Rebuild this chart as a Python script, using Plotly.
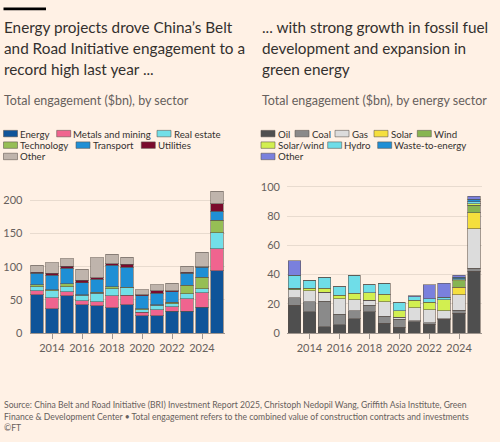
import plotly.graph_objects as go

# ---------------- data ----------------
years = [2013, 2014, 2015, 2016, 2017, 2018, 2019, 2020, 2021, 2022, 2023, 2024, 2025]

sector_names = ["Energy", "Metals and mining", "Real estate", "Technology", "Transport", "Utilities", "Other"]
energy = [58, 37, 56, 43, 41, 38, 43, 26.5, 26.5, 33, 33, 39, 94]
metals = [6, 16, 6, 6, 6, 18, 14, 5, 9, 7, 19, 22, 33]
real_estate = [6, 11, 8, 8, 13, 11, 11, 3.5, 6.5, 4.5, 7, 6, 24]
technology = [3, 1, 4, 1, 1.5, 2.5, 1, 1.5, 1, 2, 13, 17, 19]
transport = [17, 22, 24, 18, 20, 33, 30, 20, 17, 16, 18, 15, 14]
utilities = [1.5, 3, 3, 4, 2, 2, 5, 1.5, 4, 1, 2, 1, 11]
other_sector = [11, 16, 11, 16, 30, 14, 10, 7.5, 9, 12, 9, 21.5, 19]
sector_values = [energy, metals, real_estate, technology, transport, utilities, other_sector]

esector_names = ["Oil", "Coal", "Gas", "Solar", "Wind", "Solar/wind", "Hydro", "Waste-to-energy", "Other"]
oil = [19, 14.5, 4.2, 5.6, 9.8, 14.5, 6.7, 4, 7.8, 6, 9.4, 13.4, 42.3]
coal = [5, 7, 17.4, 7.4, 5.6, 4.4, 4.8, 5.4, 0.5, 0.9, 0.5, 2.2, 2]
gas = [5.5, 7.5, 6.2, 10.4, 7.3, 3.4, 10, 1.3, 9, 9, 5.5, 10.7, 27]
solar = [0, 0, 0, 0, 0, 0, 0, 0, 0, 0, 0, 5.1, 11.1]
wind = [1, 0, 0, 0, 0, 0, 0, 0, 0, 0, 0, 4.2, 5.1]
solar_wind = [0, 1.7, 2.9, 2.6, 4.5, 5.1, 5.1, 4.7, 5, 5.2, 7.4, 0.7, 0.9]
hydro = [9, 5.3, 7.3, 5.8, 12.2, 5.6, 7.5, 5.3, 2.5, 2.2, 1.7, 0.9, 1.4]
waste = [0, 0, 0, 0, 0, 0, 0, 0, 0, 0, 0, 0.9, 1.5]
other_energy = [9.8, 0, 0, 0, 0, 0, 0, 0, 0.8, 9.6, 9.4, 1.5, 2.2]
esector_values = [oil, coal, gas, solar, wind, solar_wind, hydro, waste, other_energy]

xtick_vals = [2014, 2016, 2018, 2020, 2022, 2024]
left_yticks = [0, 50, 100, 150, 200]
right_yticks = [0, 20, 40, 60, 80, 100]

# ---------------- styles ----------------
sector_colors = ["#0f5499", "#f0648f", "#72dfe8", "#96be55", "#1f8fd5", "#7a0a2c", "#bfb4ac"]
esector_colors = ["#4f4f4f", "#8a8a8a", "#dcdcdc", "#f5df3d", "#87b551", "#d2ef50", "#6fdde8", "#1f8fd5", "#7a80dd"]

BG = "#fff1e5"
TXT = "#33302e"
SUB = "#66605c"
GRID = "#e8dbcf"
BASE = "#9e958e"
OUTLINE = "rgba(90,80,75,0.55)"
FONT = "Lato"
W, H = 500, 442


def px(x):
    return x / W


def py(y):
    return 1 - y / H


fig = go.Figure()

for name, vals, col in zip(sector_names, sector_values, sector_colors):
    fig.add_trace(go.Bar(x=years, y=vals, name=name, marker_color=col,
                         marker_line=dict(color=OUTLINE, width=1),
                         width=0.82, xaxis="x", yaxis="y", showlegend=False))

for name, vals, col in zip(esector_names, esector_values, esector_colors):
    fig.add_trace(go.Bar(x=years, y=vals, name=name, marker_color=col,
                         marker_line=dict(color=OUTLINE, width=1),
                         width=0.82, xaxis="x2", yaxis="y2", showlegend=False))

ydom = [py(336.7), py(184)]
axis_common = dict(tickfont=dict(family=FONT, size=11, color=SUB))
fig.update_layout(
    width=W, height=H, margin=dict(l=0, r=0, t=0, b=0),
    paper_bgcolor=BG, plot_bgcolor=BG, barmode="stack",
    font=dict(family=FONT, color=TXT),
    xaxis=dict(domain=[px(29.5), px(224.5)], range=[2012.5, 2025.5], anchor="y",
               tickvals=xtick_vals, ticks="outside", ticklen=5, tickcolor=BASE,
               showline=True, linecolor=BASE, linewidth=1, showgrid=False, zeroline=False,
               **axis_common),
    yaxis=dict(domain=ydom, range=[0, 225], anchor="x", tickvals=left_yticks,
               showgrid=True, gridcolor=GRID, gridwidth=1, zeroline=False,
               ticklabelstandoff=6, **axis_common),
    xaxis2=dict(domain=[px(287), px(481.5)], range=[2012.5, 2025.5], anchor="y2",
                tickvals=xtick_vals, ticks="outside", ticklen=5, tickcolor=BASE,
                showline=True, linecolor=BASE, linewidth=1, showgrid=False, zeroline=False,
                **axis_common),
    yaxis2=dict(domain=ydom, range=[0, 102], anchor="x2", tickvals=right_yticks,
                showgrid=True, gridcolor=GRID, gridwidth=1, zeroline=False,
                ticklabelstandoff=6, **axis_common),
)

annotations = []
shapes = []


def text(x, y, s, size, color, anchor="middle"):
    annotations.append(dict(x=px(x), y=py(y), xref="paper", yref="paper", text=s,
                            showarrow=False, xanchor="left", yanchor=anchor, borderpad=0,
                            font=dict(family=FONT, size=size, color=color)))


# top-left black rule
shapes.append(dict(type="rect", xref="paper", yref="paper", x0=px(3.5), x1=px(46),
                   y0=py(6.5), y1=py(3.5), fillcolor="#000000", line=dict(width=0)))

left_title = ["Energy projects drove China’s Belt",
              "and Road Initiative engagement to a",
              "record high last year ..."]
right_title = ["... with strong growth in fossil fuel",
               "development and expansion in",
               "green energy"]
title_y = [24, 45, 66]
for s, y in zip(left_title, title_y):
    text(3, y, s, 15.3, TXT)
for s, y in zip(right_title, title_y):
    text(261, y, s, 15.3, TXT)

text(3, 98.5, "Total engagement ($bn), by sector", 12.5, SUB)
text(261, 98.5, "Total engagement ($bn), by energy sector", 12.5, SUB)

# legends (layout: row, swatch-x)
left_leg_pos = [(0, 3.5), (0, 56.7), (0, 157), (1, 3.5), (1, 76), (1, 141.3), (2, 3.5)]
right_leg_pos = [(0, 261), (0, 295), (0, 335), (0, 374), (0, 417.3), (1, 261), (1, 327.7), (1, 377.7), (2, 261)]
row_y = [132.6, 144.4, 156]


def legend(names, colors, pos):
    for name, col, (r, x) in zip(names, colors, pos):
        yc = row_y[r]
        shapes.append(dict(type="rect", xref="paper", yref="paper", x0=px(x), x1=px(x + 14),
                           y0=py(yc + 3.3), y1=py(yc - 3.3), fillcolor=col,
                           line=dict(color=OUTLINE, width=1)))
        text(x + 15.5, yc, name, 9.7, TXT)


legend(sector_names, sector_colors, left_leg_pos)
legend(esector_names, esector_colors, right_leg_pos)

source = ["Source: China Belt and Road Initiative (BRI) Investment Report 2025, Christoph Nedopil Wang, Griffith Asia Institute, Green",
          "Finance &amp; Development Center • Total engagement refers to the combined value of construction contracts and investments",
          "©FT"]
for s, y in zip(source, [410.7, 422.3, 433.5]):
    text(3, y, s, 8.6, SUB)

fig.update_layout(annotations=annotations, shapes=shapes)
fig.write_html("out.html")
